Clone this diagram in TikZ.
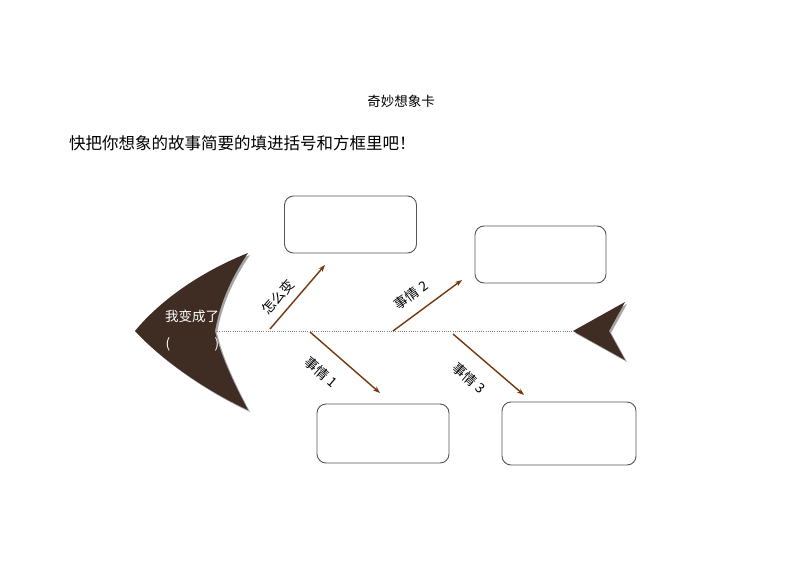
\documentclass[tikz,border=0pt]{standalone}
\usepackage{fontspec}
\setmainfont{Noto Sans CJK SC}
\usetikzlibrary{arrows.meta}
\definecolor{fishbrown}{HTML}{3F2C22}
\definecolor{arrowbrown}{HTML}{74380C}
\definecolor{boxgray}{HTML}{555555}
\tikzset{
  answerbox/.style={draw=boxgray, line width=0.9pt, rounded corners=9pt},
  bone/.style={draw=arrowbrown, line width=1.4pt, -{Stealth[length=7pt,width=5pt]}},
  bonelabel/.style={font=\fontsize{13.5}{15}\selectfont, inner sep=0pt},
  spine/.style={draw=gray, line width=0.8pt, dash pattern=on 1pt off 1.2pt},
}
\begin{document}
\begin{tikzpicture}[x=1pt,y=-1pt]
\useasboundingbox (0,0) rectangle (794,561);
\fill[white] (0,0) rectangle (794,561);

% titles
\node[font=\fontsize{13.5}{15}\selectfont, inner sep=0pt] (title) at (401,101) {奇妙想象卡};
\node[font=\fontsize{16.5}{18}\selectfont, inner sep=0pt, anchor=west] (sub) at (69,143) {快把你想象的故事简要的填进括号和方框里吧！};

% spine
\coordinate (notch) at (215,331);
\coordinate (tailtip) at (573,331);
\draw[spine] (notch) -- (tailtip);

% fish head shadow and head
\fill[gray!70] (250,255) .. controls (207,272) and (164,300) .. (137,333)
   .. controls (164,362) and (207,392) .. (250,412)
   .. controls (233,380) and (222,355) .. (217,333)
   .. controls (222,305) and (233,280) .. cycle;
\fill[fishbrown] (248,253) .. controls (205,270) and (162,298) .. (135,331)
   .. controls (162,360) and (205,390) .. (248,410)
   .. controls (231,378) and (220,353) .. (215,331)
   .. controls (220,303) and (231,278) .. cycle;
\node[font=\fontsize{13.5}{15}\selectfont, text=white, inner sep=0pt] (became) at (192,316) {我变成了};
\node[font=\fontsize{13.5}{15}\selectfont, text=white, inner sep=0pt] (lp) at (168,344) {(};
\node[font=\fontsize{13.5}{15}\selectfont, text=white, inner sep=0pt] (rp) at (217,344) {)};

% tail shadow and tail
\fill[gray!70] (575,333) -- (627,304) -- (611,333) -- (627,362) -- cycle;
\fill[fishbrown] (tailtip) -- (625,302) -- (609,331) -- (625,360) -- cycle;

% boxes
\node[answerbox, minimum width=132pt, minimum height=57pt] (b1) at (350.5,224.5) {};
\node[answerbox, minimum width=131pt, minimum height=57pt] (b2) at (540.5,254.5) {};
\node[answerbox, minimum width=132pt, minimum height=59pt] (b3) at (383,433.5) {};
\node[answerbox, minimum width=134pt, minimum height=63pt] (b4) at (569,433.5) {};

% bones
\coordinate (s1) at (270,329); \coordinate (e1) at (325,265);
\coordinate (s2) at (310,332); \coordinate (e2) at (380,393);
\coordinate (s3) at (393,331); \coordinate (e3) at (462,280);
\coordinate (s4) at (453,334); \coordinate (e4) at (524,395);
\draw[bone] (s1) -- (e1);
\draw[bone] (s2) -- (e2);
\draw[bone] (s3) -- (e3);
\draw[bone] (s4) -- (e4);

\node[bonelabel, rotate=49] (l1) at (278,297) {怎么变};
\node[bonelabel, rotate=-41] (l2) at (321,372) {事情 1};
\node[bonelabel, rotate=36] (l3) at (411,295) {事情 2};
\node[bonelabel, rotate=-41] (l4) at (469,378) {事情 3};
\end{tikzpicture}
\end{document}
